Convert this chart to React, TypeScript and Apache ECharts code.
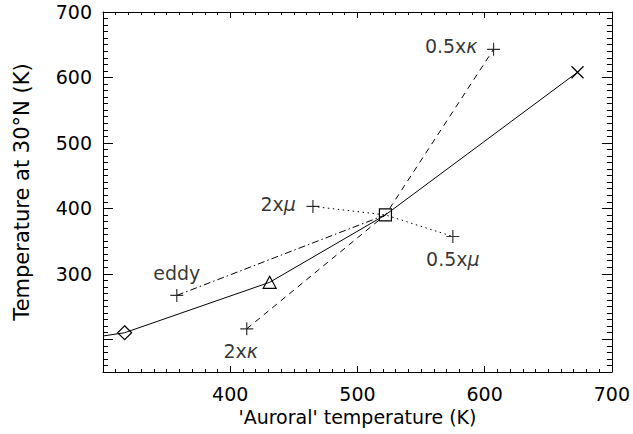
import React, { useEffect, useRef } from "react";
import * as echarts from "echarts";

// ---- data ----
const mainX = [300, 317, 431, 522, 673];
const mainY = [205, 210, 287, 390, 608];
const mainSymbols = ["none", "diamond", "triangle", "rect", "cross"];

const kappaX = [413, 522, 607];
const kappaY = [216, 390, 643];

const muX = [465, 522, 575];
const muY = [403, 390, 357];

const eddyX = [358, 522];
const eddyY = [267, 390];

const variantNames = ["2xκ", "0.5xκ", "2xμ", "0.5xμ", "eddy"];
const variantX = [413, 607, 465, 575, 358];
const variantY = [216, 643, 403, 357, 267];

const xTickLabels = [400, 500, 600, 700];
const yTickLabels = [300, 400, 500, 600, 700];
const yMajorTicks = [200, 300, 400, 500, 600, 700];

const FONT = "DejaVu Sans";
const CROSS = "path://M0,0L10,10M10,0L0,10";
const PLUS = "path://M5,0L5,10M0,5L10,5";

const labelPlacement: Record<string, any> = {
  "2xκ": { position: "bottom", distance: 4, offset: [-6, 0] },
  "0.5xκ": { position: "left", distance: 7, offset: [0, -3] },
  "2xμ": { position: "left", distance: 8, offset: [0, -2] },
  "0.5xμ": { position: "bottom", distance: 4 },
  eddy: { position: "top", distance: 4 },
};

const symbolSizes: Record<string, any> = {
  diamond: [14, 14],
  triangle: [13, 12],
  rect: [12, 12],
  cross: [12, 12],
};

export default function App() {
  const ref = useRef<HTMLDivElement>(null);
  useEffect(() => {
    if (!ref.current) return;
    const chart = echarts.init(ref.current, undefined, { renderer: "svg" });
    const black = "#000";
    const tickStyle = { color: black, width: 1 };
    const mk = (xs: number[], ys: number[]) => xs.map((x, i) => [x, ys[i]]);

    const xBase = (pos: "bottom" | "top", labels: boolean) => ({
      type: "value",
      min: 300,
      max: 700,
      interval: 100,
      position: pos,
      axisLine: { show: true, onZero: false, lineStyle: { color: black, width: 1 } },
      axisTick: { show: true, inside: true, length: 6, lineStyle: tickStyle },
      minorTick: { show: true, splitNumber: 10, length: 3, lineStyle: tickStyle },
      splitLine: { show: false },
      minorSplitLine: { show: false },
      axisLabel: labels
        ? {
            show: true,
            margin: 12,
            color: black,
            fontSize: 19,
            fontFamily: FONT,
            formatter: (v: number) => (xTickLabels.includes(v) ? String(v) : ""),
          }
        : { show: false },
      ...(labels
        ? {
            name: "'Auroral' temperature (K)",
            nameLocation: "middle",
            nameGap: 35,
            nameTextStyle: { color: black, fontSize: 19, fontFamily: FONT },
          }
        : {}),
    });

    const yMinor = (pos: "left" | "right", labels: boolean) => ({
      type: "value",
      min: 150,
      max: 700,
      interval: 10,
      position: pos,
      axisLine: { show: true, onZero: false, lineStyle: { color: black, width: 1 } },
      axisTick: { show: true, inside: true, length: 5, lineStyle: tickStyle },
      splitLine: { show: false },
      axisLabel: labels
        ? {
            show: true,
            margin: 11,
            color: black,
            fontSize: 19,
            fontFamily: FONT,
            formatter: (v: number) => (yTickLabels.includes(v) ? String(v) : ""),
          }
        : { show: false },
      ...(labels
        ? {
            name: "Temperature at 30°N (K)",
            nameLocation: "middle",
            nameGap: 71,
            nameTextStyle: { color: black, fontSize: 21, fontFamily: FONT },
          }
        : {}),
    });

    const yMajor = (pos: "left" | "right") => ({
      type: "value",
      min: 150,
      max: 700,
      interval: 50,
      position: pos,
      axisLine: { show: false, onZero: false },
      axisTick: {
        show: true,
        inside: true,
        length: 10,
        customValues: yMajorTicks,
        lineStyle: tickStyle,
      },
      splitLine: { show: false },
      axisLabel: { show: false },
    });

    const greek = (s: string) => s.replace(/([μκ])/g, "{g|$1}");

    chart.setOption({
      animation: false,
      backgroundColor: "#fff",
      grid: { left: 103, right: 21, top: 12, bottom: 62, containLabel: false },
      xAxis: [xBase("bottom", true), xBase("top", false)],
      yAxis: [yMinor("left", true), yMajor("left"), yMinor("right", false), yMajor("right")],
      series: [
        {
          type: "line",
          xAxisIndex: 0,
          yAxisIndex: 0,
          data: mainX.map((x, i) => ({
            value: [x, mainY[i]],
            symbol: mainSymbols[i] === "cross" ? CROSS : mainSymbols[i],
            symbolSize: symbolSizes[mainSymbols[i]] || 0,
          })),
          lineStyle: { color: black, width: 1, type: "solid" },
          itemStyle: { color: "none", borderColor: black, borderWidth: 1.2 },
          showSymbol: true,
          z: 3,
        },
        {
          type: "line",
          data: mk(kappaX, kappaY),
          symbol: "none",
          lineStyle: { color: black, width: 1, type: [6, 5] },
          z: 2,
        },
        {
          type: "line",
          data: mk(muX, muY),
          symbol: "none",
          lineStyle: { color: black, width: 1, type: [1.5, 3.5] },
          z: 2,
        },
        {
          type: "line",
          data: mk(eddyX, eddyY),
          symbol: "none",
          lineStyle: { color: black, width: 1, type: [7, 3, 1.5, 3] },
          z: 2,
        },
        {
          type: "scatter",
          symbol: PLUS,
          symbolSize: 13,
          itemStyle: { color: "none", borderColor: black, borderWidth: 1.2 },
          data: variantNames.map((n, i) => ({
            name: n,
            value: [variantX[i], variantY[i]],
            label: {
              show: true,
              ...labelPlacement[n],
              formatter: greek(n),
              color: black,
              fontSize: 19,
              fontFamily: FONT,
              rich: {
                g: { fontSize: 19, fontFamily: FONT, fontStyle: "italic", color: black },
              },
            },
          })),
          z: 4,
        },
      ],
    });
    return () => chart.dispose();
  }, []);

  return (
    <div
      ref={ref}
      style={{ position: "fixed", left: 0, top: 0, width: 633, height: 434, background: "#fff" }}
    />
  );
}
